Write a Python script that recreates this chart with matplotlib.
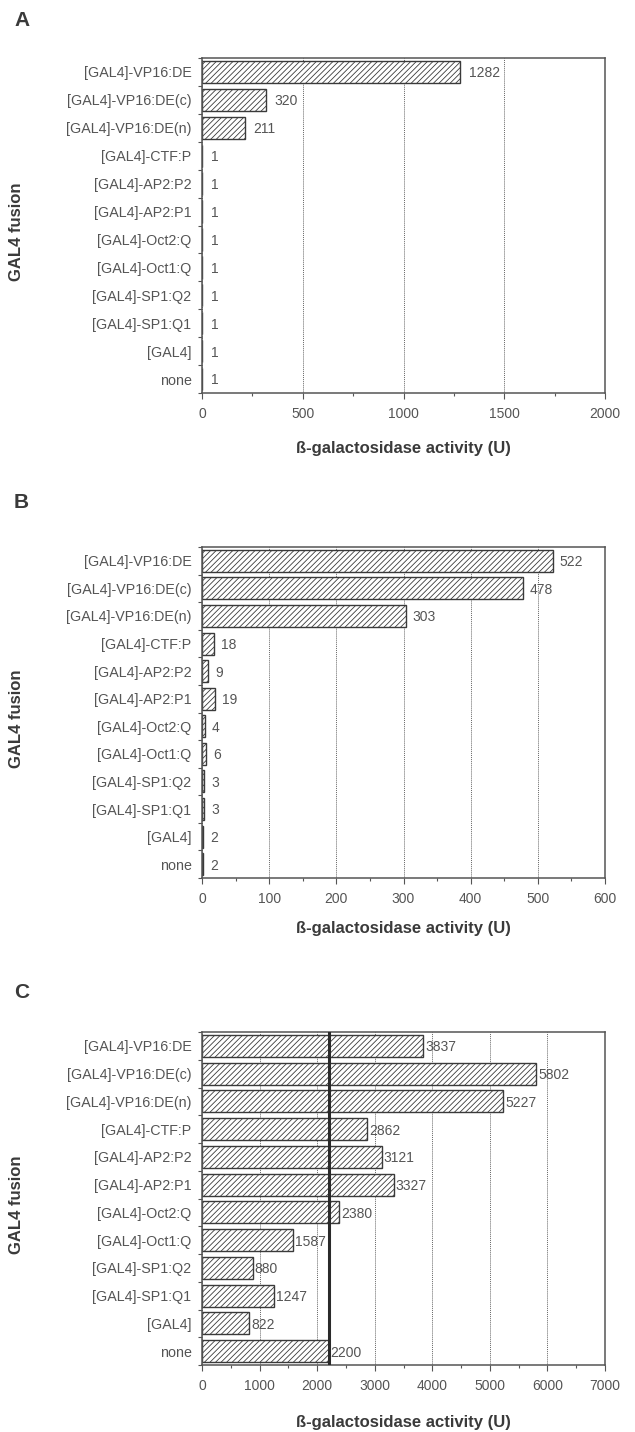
import numpy as np
import matplotlib
matplotlib.use("Agg")
import matplotlib.pyplot as plt
from matplotlib.ticker import MultipleLocator

plt.rcParams['font.family'] = ['Liberation Sans', 'DejaVu Sans']
plt.rcParams['hatch.linewidth'] = 0.6

# data
categories = ['[GAL4]-VP16:DE', '[GAL4]-VP16:DE(c)', '[GAL4]-VP16:DE(n)',
              '[GAL4]-CTF:P', '[GAL4]-AP2:P2', '[GAL4]-AP2:P1',
              '[GAL4]-Oct2:Q', '[GAL4]-Oct1:Q', '[GAL4]-SP1:Q2',
              '[GAL4]-SP1:Q1', '[GAL4]', 'none']
a_vals = [1282, 320, 211, 1, 1, 1, 1, 1, 1, 1, 1, 1]
b_vals = [522, 478, 303, 18, 9, 19, 4, 6, 3, 3, 2, 2]
c_vals = [3837, 5802, 5227, 2862, 3121, 3327, 2380, 1587, 880, 1247, 822, 2200]
c_ref = 2200

panel_letters = ['A', 'B', 'C']
x_max = [2000, 600, 7000]
x_major = [500, 100, 1000]
xlabel = 'ß-galactosidase activity (U)'
ylabel = 'GAL4 fusion'

W, H = 635, 1432
fig = plt.figure(figsize=(W / 100, H / 100), dpi=100)

def frac_box(l, t, r, b):
    return [l / W, 1 - b / H, (r - l) / W, (b - t) / H]

# pixel layout: (axes top, axes bottom, letter y, xlabel y, value label offset pt)
layout = [(58, 393, 21, 448, 6),
          (547, 878, 503, 928, 5),
          (1032, 1365, 993, 1422, 1.5)]

dark = '#3a3a3a'
grey = '#555555'
left, right = 202, 605

for i, vals in enumerate([a_vals, b_vals, c_vals]):
    top, bot, ly, xly, off = layout[i]
    ax = fig.add_axes(frac_box(left, top, right, bot))
    y = np.arange(len(categories))
    ax.barh(y, vals, height=0.8, color='white', edgecolor=dark,
            hatch='//////', linewidth=1.0, zorder=2)
    for yi, v in zip(y, vals):
        ax.annotate(str(v), (v, yi), xytext=(off, -1), textcoords='offset points',
                    va='center', ha='left', fontsize=10, color=grey, zorder=5)
    if i == 2:
        ax.axvline(c_ref, color='#2a2a2a', lw=2.2, zorder=4)

    ax.set_xlim(0, x_max[i])
    ax.set_ylim(len(categories) - 0.5, -0.5)
    ax.xaxis.set_major_locator(MultipleLocator(x_major[i]))
    ax.xaxis.set_minor_locator(MultipleLocator(x_major[i] / 2))
    ax.set_yticks(y)
    ax.set_yticklabels(categories)
    ax.set_yticks(np.arange(len(categories) + 1) - 0.5, minor=True)
    ax.tick_params(axis='y', which='major', length=0, pad=7.5,
                   labelsize=10.3, labelcolor=grey)
    ax.tick_params(axis='y', which='minor', length=3, width=0.8,
                   color=grey, direction='out')
    ax.tick_params(axis='x', which='major', length=4, width=0.8, color=grey,
                   pad=6, labelsize=10, labelcolor=grey)
    ax.tick_params(axis='x', which='minor', length=2.5, width=0.8, color=grey)
    ax.grid(axis='x', which='major', color='#666666', lw=0.7,
            linestyle=(0, (1, 1)), zorder=0)
    ax.set_axisbelow(True)
    for s in ax.spines.values():
        s.set_color(grey)
        s.set_linewidth(1.1)

    fig.text(14 / W, 1 - ly / H, panel_letters[i], fontsize=15, fontweight='bold',
             color=dark, ha='left', va='center')
    fig.text((left + right) / 2 / W, 1 - xly / H, xlabel, fontsize=12,
             fontweight='bold', color=dark, ha='center', va='center')
    fig.text(17 / W, 1 - ((top + bot) / 2 + 6) / H, ylabel, fontsize=12,
             fontweight='bold', color=dark, ha='center', va='center',
             rotation=90)

fig.savefig('out.png', dpi=100)
